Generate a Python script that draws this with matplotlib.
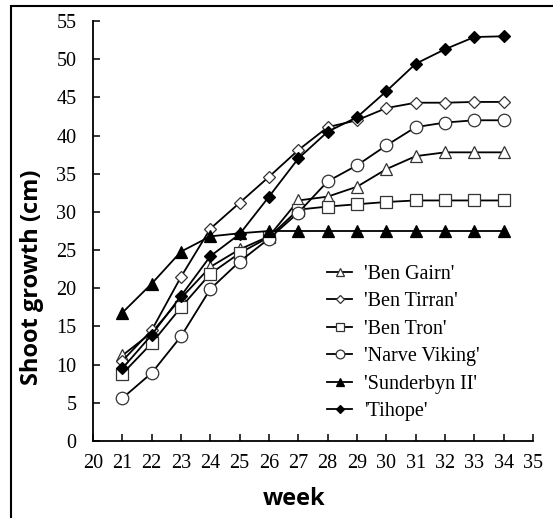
import matplotlib
matplotlib.use("Agg")
import matplotlib.pyplot as plt
from matplotlib.patches import Rectangle

weeks = [21, 22, 23, 24, 25, 26, 27, 28, 29, 30, 31, 32, 33, 34]
ben_gairn = [11.2, 14.2, 18.7, 22.8, 25.1, 26.8, 31.5, 32.0, 33.3, 35.6, 37.3, 37.8, 37.8, 37.8]
ben_tirran = [10.5, 14.5, 21.5, 27.8, 31.2, 34.6, 38.1, 41.1, 42.0, 43.6, 44.3, 44.3, 44.4, 44.4]
ben_tron = [8.8, 12.8, 17.5, 21.9, 24.6, 26.7, 30.3, 30.7, 31.0, 31.3, 31.5, 31.5, 31.5, 31.5]
narve_viking = [5.6, 8.9, 13.7, 19.9, 23.5, 26.5, 29.9, 34.0, 36.1, 38.7, 41.1, 41.7, 42.0, 42.0]
sunderbyn = [16.8, 20.6, 24.8, 26.8, 27.2, 27.5, 27.5, 27.5, 27.5, 27.5, 27.5, 27.5, 27.5, 27.5]
tihope = [9.5, 13.9, 19.0, 24.2, 27.1, 32.0, 37.0, 40.5, 42.4, 45.8, 49.4, 51.3, 52.9, 53.0]

labels = ["'Ben Gairn'", "'Ben Tirran'", "'Ben Tron'", "'Narve Viking'", "'Sunderbyn II'", "'Tihope'"]
xticks = list(range(20, 36))
yticks = list(range(0, 56, 5))

fig = plt.figure(figsize=(5.53, 5.18), dpi=100)
fig.patches.append(Rectangle((11/553, -0.1), 1.2, 1 - 6/518 + 0.1, transform=fig.transFigure,
                             fill=False, edgecolor='black', linewidth=1.5))
ax = fig.add_axes([93/553, 1 - 441/518, 440/553, 420/518])

lw = 1.3
series = [
    (ben_gairn, '^', 'white', 8.5),
    (ben_tirran, 'D', 'white', 6.3),
    (ben_tron, 's', 'white', 8.3),
    (narve_viking, 'o', 'white', 9),
    (sunderbyn, '^', 'black', 8.5),
    (tihope, 'D', 'black', 6.3),
]
for (vals, m, fc, ms), lab in zip(series, labels):
    ax.plot(weeks, vals, color='black', linewidth=lw, marker=m, markersize=ms,
            markerfacecolor=fc, markeredgecolor='#333333' if fc == 'white' else 'black',
            markeredgewidth=0.9, label=lab)

ax.set_xlim(20, 35)
ax.set_ylim(0, 55)
ax.set_xticks(xticks)
ax.set_yticks(yticks)
ax.spines['top'].set_visible(False)
ax.spines['right'].set_visible(False)
for s in ['left', 'bottom']:
    ax.spines[s].set_linewidth(1.3)
ax.tick_params(direction='in', length=5, width=1.1, labelsize=14.5)
for t in ax.get_xticklabels() + ax.get_yticklabels():
    t.set_fontfamily('Liberation Serif')
ax.tick_params(axis='x', pad=9)
ax.tick_params(axis='y', pad=12)

ax.set_xlabel('week', fontsize=17, fontweight='bold', fontfamily='Open Sans')
ax.xaxis.set_label_coords(0.457, -0.11)
ax.set_ylabel('Shoot growth (cm)', fontsize=17, fontweight='bold', fontfamily='Open Sans')
ax.yaxis.set_label_coords(-0.112, 0.39)

leg = ax.legend(loc='upper left', bbox_to_anchor=(0.532, 0.42), frameon=False,
                prop={'family': 'Liberation Serif', 'size': 14.5}, markerscale=0.7,
                handlelength=1.25, handletextpad=0.6, labelspacing=0.42, borderaxespad=0,
                borderpad=0)

fig.savefig('out.png', dpi=100)
